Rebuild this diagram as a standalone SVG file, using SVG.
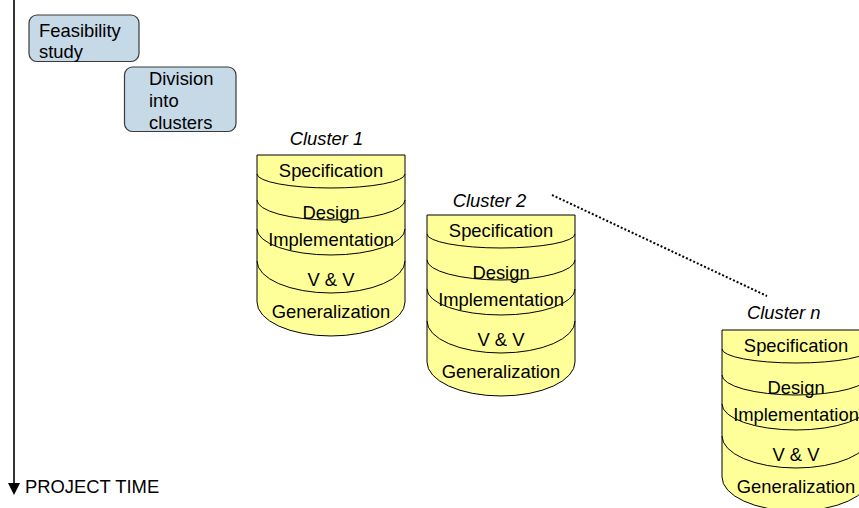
<svg xmlns="http://www.w3.org/2000/svg" width="859" height="508" viewBox="0 0 859 508">
  <style>
    text { font-family: "Liberation Sans", Arial, sans-serif; font-size: 18.4px; fill: #000; }
    .mid { text-anchor: middle; }
    .lbl { font-style: italic; }
    .phase { fill: #c5d9e7; stroke: #3a3a3a; stroke-width: 1.2; }
    .can { fill: #ffff99; stroke: #000; stroke-width: 1; }
    .ring { fill: none; stroke: #000; stroke-width: 1; }
    .dots { fill: none; stroke: #000; stroke-width: 2; stroke-dasharray: 2 2; }
    .axis { fill: none; stroke: #000; stroke-width: 1.6; }
  </style>

  <!-- vertical time axis -->
  <g id="time-axis">
    <line class="axis" x1="14" y1="0" x2="14" y2="485"/>
    <polygon points="8,483 20,483 14,495" fill="#000"/>
    <text x="25" y="493">PROJECT TIME</text>
  </g>

  <!-- early phases -->
  <g id="feasibility">
    <rect class="phase" x="29" y="15" width="110" height="46.5" rx="8"/>
    <text x="39" y="37">Feasibility</text>
    <text x="39" y="58">study</text>
  </g>
  <g id="division">
    <rect class="phase" x="124.5" y="67" width="111.5" height="64.5" rx="8"/>
    <text x="149" y="85">Division</text>
    <text x="149" y="107">into</text>
    <text x="149" y="129">clusters</text>
  </g>

  <!-- cluster stacks: one can per cluster, rings separate the phases -->
  <g id="cluster-1">
    <text class="lbl mid" x="326.5" y="145">Cluster 1</text>
    <path class="can" d="M257,155 H405 V302 A74,34 0 0 1 257,302 Z"/>
    <path class="ring" d="M257,174 A74,14 0 0 0 405,174"/>
    <path class="ring" d="M257,200 A74,20 0 0 0 405,200"/>
    <path class="ring" d="M257,229 A74,26 0 0 0 405,229"/>
    <path class="ring" d="M257,261 A74,32 0 0 0 405,261"/>
    <text class="mid" x="331" y="177">Specification</text>
    <text class="mid" x="331" y="219">Design</text>
    <text class="mid" x="331" y="246">Implementation</text>
    <text class="mid" x="331" y="286">V &amp; V</text>
    <text class="mid" x="331" y="318">Generalization</text>
  </g>

  <g id="cluster-2" transform="translate(170,60)">
    <text class="lbl mid" x="319.5" y="146.5">Cluster 2</text>
    <path class="can" d="M257,155 H405 V302 A74,34 0 0 1 257,302 Z"/>
    <path class="ring" d="M257,174 A74,14 0 0 0 405,174"/>
    <path class="ring" d="M257,200 A74,20 0 0 0 405,200"/>
    <path class="ring" d="M257,229 A74,26 0 0 0 405,229"/>
    <path class="ring" d="M257,261 A74,32 0 0 0 405,261"/>
    <text class="mid" x="331" y="177">Specification</text>
    <text class="mid" x="331" y="219">Design</text>
    <text class="mid" x="331" y="246">Implementation</text>
    <text class="mid" x="331" y="286">V &amp; V</text>
    <text class="mid" x="331" y="318">Generalization</text>
  </g>

  <g id="cluster-n" transform="translate(465,175)">
    <text class="lbl mid" x="318.7" y="144">Cluster n</text>
    <path class="can" d="M257,155 H405 V302 A74,34 0 0 1 257,302 Z"/>
    <path class="ring" d="M257,174 A74,14 0 0 0 405,174"/>
    <path class="ring" d="M257,200 A74,20 0 0 0 405,200"/>
    <path class="ring" d="M257,229 A74,26 0 0 0 405,229"/>
    <path class="ring" d="M257,261 A74,32 0 0 0 405,261"/>
    <text class="mid" x="331" y="177">Specification</text>
    <text class="mid" x="331" y="219">Design</text>
    <text class="mid" x="331" y="246">Implementation</text>
    <text class="mid" x="331" y="286">V &amp; V</text>
    <text class="mid" x="331" y="318">Generalization</text>
  </g>

  <!-- dotted link between clusters -->
  <g id="connectors">
    <line class="dots" x1="552" y1="195" x2="767" y2="296"/>
  </g>
</svg>
